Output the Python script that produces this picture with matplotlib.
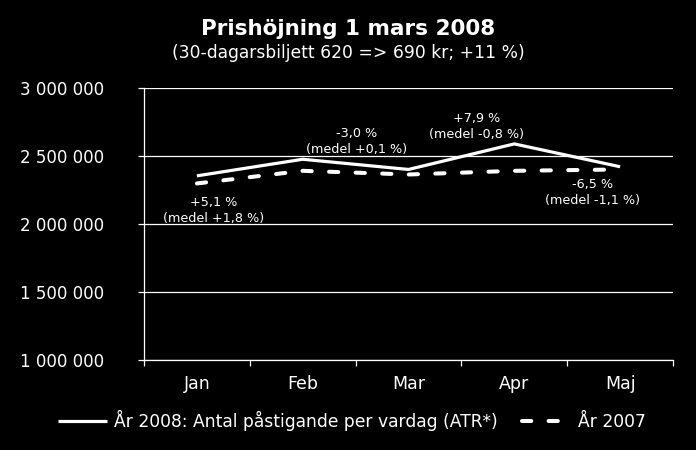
import matplotlib
matplotlib.use("Agg")
import matplotlib.pyplot as plt
from matplotlib.ticker import FuncFormatter, FixedLocator

months = ["Jan", "Feb", "Mar", "Apr", "Maj"]
y2008 = [2354000, 2476000, 2401000, 2589000, 2421000]
y2007 = [2298000, 2391000, 2364000, 2391000, 2401000]
label2008 = "År 2008: Antal påstigande per vardag (ATR*)"
label2007 = "År 2007"
notes = ["+5,1 %\n(medel +1,8 %)", "-3,0 %\n(medel +0,1 %)",
         "+7,9 %\n(medel -0,8 %)", "-6,5 %\n(medel -1,1 %)"]
note_x = [0.16, 1.51, 2.64, 3.74]
note_y = [2100000, 2607000, 2715000, 2230000]
title = "Prishöjning 1 mars 2008"
subtitle = "(30-dagarsbiljett 620 => 690 kr; +11 %)"

plt.rcParams['font.family'] = ['DejaVu Sans']
fig = plt.figure(figsize=(6.96, 4.5), dpi=100, facecolor='black')
ax = fig.add_axes([144/696, 90/450, (673-144)/696, (360-88)/450])
ax.set_facecolor('black')

x = list(range(len(months)))
ax.plot(x, y2008, color='white', lw=2.3, solid_capstyle='butt', label=label2008, zorder=3)
ax.plot(x, y2007, color='white', lw=2.9, dashes=(2.3, 4.3), dash_capstyle='round',
        label=label2007, zorder=3)

ax.set_xlim(-0.5, len(months) - 0.5)
ax.set_ylim(1000000, 3000000)
ax.set_yticks([1000000, 1500000, 2000000, 2500000, 3000000])
ax.yaxis.set_major_formatter(FuncFormatter(lambda v, p: f"{int(v):,}".replace(",", " ")))
ax.grid(axis='y', color='white', lw=0.9, zorder=1)
ax.set_axisbelow(True)

ax.set_xticks(x)
ax.set_xticklabels(months)
ax.xaxis.set_minor_locator(FixedLocator([i - 0.5 for i in range(len(months) + 1)]))
ax.tick_params(axis='x', which='major', length=0, pad=11, colors='white', labelsize=12.5)
ax.tick_params(axis='x', which='minor', length=4, width=0.9, color='white')
ax.tick_params(axis='y', length=4.5, width=0.9, color='white', labelcolor='white',
               labelsize=12, pad=24)

for s in ['top', 'right']:
    ax.spines[s].set_visible(False)
for s in ['left', 'bottom']:
    ax.spines[s].set_color('white')
    ax.spines[s].set_linewidth(0.9)

for t, xx, yy in zip(notes, note_x, note_y):
    ax.text(xx, yy, t, color='white', fontsize=9.2, ha='center', va='center',
            linespacing=1.3, zorder=4)

fig.text(348/696, 1 - 29/450, title, color='white', fontsize=15.5, fontweight='bold',
         ha='center', va='center')
fig.text(348/696, 1 - 53/450, subtitle, color='white', fontsize=12.3,
         ha='center', va='center')

leg = fig.legend(loc='center', bbox_to_anchor=(352/696, 1 - 420/450), ncol=2,
                 frameon=False, fontsize=12.3, handlelength=2.9, handletextpad=0.4,
                 columnspacing=1.4, labelcolor='white')

fig.savefig("out.png", dpi=100, facecolor='black')
